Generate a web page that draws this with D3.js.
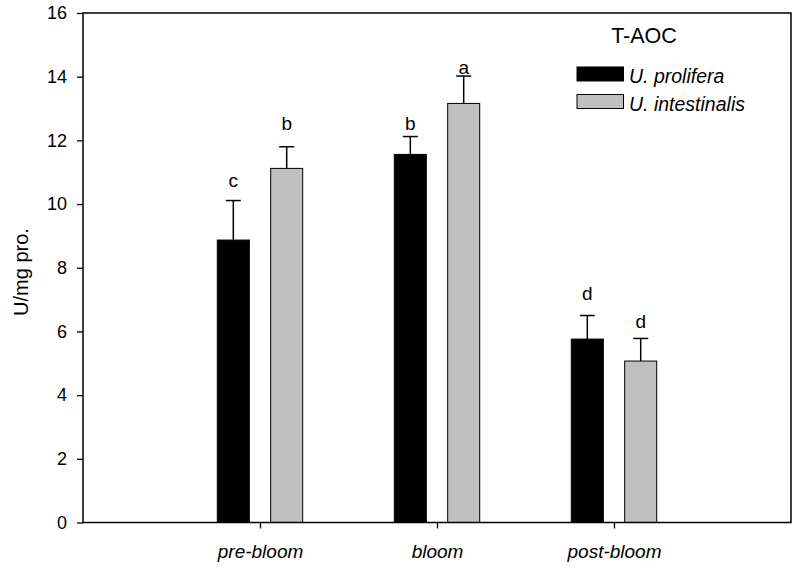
<!DOCTYPE html>
<html>
<head>
<meta charset="utf-8">
<script src="https://cdn.jsdelivr.net/npm/d3@7"></script>
<style>
  body { margin: 0; background: #fff; }
  svg { display: block; font-family: "Liberation Sans", Arial, sans-serif; }
</style>
</head>
<body>
<div id="chart"></div>
<script>
const categories = ["pre-bloom", "bloom", "post-bloom"];
const seriesNames = ["U. prolifera", "U. intestinalis"];
const seriesColors = ["#000000", "#c0c0c0"];
const proliferaValues = [8.87, 11.56, 5.76];
const proliferaErrors = [1.24, 0.56, 0.74];
const intestinalisValues = [11.12, 13.16, 5.07];
const intestinalisErrors = [0.68, 0.86, 0.71];
const proliferaLetters = ["c", "b", "d"];
const intestinalisLetters = ["b", "a", "d"];
const proliferaLetterAt = [10.54, 12.32, 6.98];
const intestinalisLetterAt = [12.32, 14.08, 6.10];
const yTicks = [0, 2, 4, 6, 8, 10, 12, 14, 16];
const legendTitle = "T-AOC";
const yTitle = "U/mg pro.";

const W = 799, H = 569;
const margin = { top: 13, right: 8, bottom: 46.5, left: 83 };
const iw = W - margin.left - margin.right;
const ih = H - margin.top - margin.bottom;

const svg = d3.select("#chart").append("svg").attr("width", W).attr("height", H);
const g = svg.append("g").attr("transform", `translate(${margin.left},${margin.top})`);

const x = d3.scalePoint().domain(categories).range([0, iw]).padding(1);
const xs = d3.scaleBand().domain([0, 1]).range([-42.7, 42.7]).paddingInner(0.4);
const y = d3.scaleLinear().domain([0, 16]).range([ih, 0]);

const series = [
  { name: seriesNames[0], color: seriesColors[0], values: proliferaValues, errors: proliferaErrors, letters: proliferaLetters, letterAt: proliferaLetterAt },
  { name: seriesNames[1], color: seriesColors[1], values: intestinalisValues, errors: intestinalisErrors, letters: intestinalisLetters, letterAt: intestinalisLetterAt }
];

// bars, error bars, letters
series.forEach((s, si) => {
  const sg = g.append("g");
  categories.forEach((c, i) => {
    const bx = x(c) + xs(si);
    const cx = bx + xs.bandwidth() / 2;
    const v = s.values[i], e = s.errors[i];
    // error bar (upward only)
    sg.append("line").attr("x1", cx).attr("x2", cx).attr("y1", y(v)).attr("y2", y(v + e))
      .attr("stroke", "#000").attr("stroke-width", 1.5);
    sg.append("line").attr("x1", cx - 7.5).attr("x2", cx + 7.5).attr("y1", y(v + e)).attr("y2", y(v + e))
      .attr("stroke", "#000").attr("stroke-width", 1.5);
    sg.append("rect").attr("x", bx).attr("y", y(v)).attr("width", xs.bandwidth()).attr("height", y(0) - y(v))
      .attr("fill", s.color).attr("stroke", "#000").attr("stroke-width", 1);
    sg.append("text").attr("x", cx).attr("y", y(s.letterAt[i])).attr("text-anchor", "middle")
      .attr("font-size", 19).text(s.letters[i]);
  });
});

// frame
g.append("rect").attr("x", 0).attr("y", 0).attr("width", iw).attr("height", ih)
  .attr("fill", "none").attr("stroke", "#000").attr("stroke-width", 1.5);

// axes
const yAxis = g.append("g").call(d3.axisLeft(y).tickValues(yTicks).tickSize(6).tickPadding(10).tickFormat(d3.format("d")));
yAxis.select(".domain").remove();
yAxis.selectAll("line").attr("stroke-width", 1.3);
yAxis.selectAll("text").attr("font-size", 18).attr("font-family", "Liberation Sans, Arial, sans-serif").attr("fill", "#000");

const xAxis = g.append("g").attr("transform", `translate(0,${ih})`)
  .call(d3.axisBottom(x).tickSize(6).tickPadding(16));
xAxis.select(".domain").remove();
xAxis.selectAll("line").attr("stroke-width", 1.3);
xAxis.selectAll("text").attr("font-size", 19).attr("font-style", "italic")
  .attr("font-family", "Liberation Sans, Arial, sans-serif").attr("fill", "#000");

// y title
svg.append("text").attr("transform", `translate(28,272) rotate(-90)`).attr("text-anchor", "middle")
  .attr("font-size", 20).text(yTitle);

// legend
svg.append("text").attr("x", 644).attr("y", 43).attr("text-anchor", "middle").attr("font-size", 21.5).text(legendTitle);
series.forEach((s, si) => {
  const ly = 67 + si * 27.5;
  svg.append("rect").attr("x", 577).attr("y", ly).attr("width", 46.5).attr("height", 14)
    .attr("fill", s.color).attr("stroke", "#000").attr("stroke-width", 1);
  svg.append("text").attr("x", 629).attr("y", ly + 16).attr("font-size", 19.5).attr("font-style", "italic").text(s.name);
});
</script>
</body>
</html>
